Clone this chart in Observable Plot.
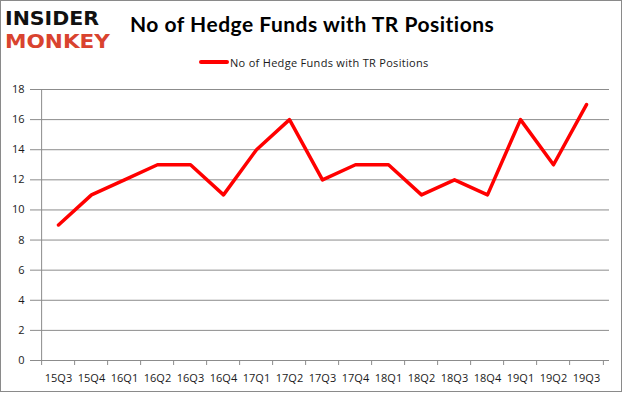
<!DOCTYPE html>
<html>
<head>
<meta charset="utf-8">
<script src="https://cdn.jsdelivr.net/npm/d3@7"></script>
<script src="https://cdn.jsdelivr.net/npm/@observablehq/plot@0.6"></script>
<style>
  html, body { margin: 0; padding: 0; background: #fff; }
  #wrap { position: relative; width: 625px; height: 394px; overflow: hidden; background: #fff; }
  #border { position: absolute; left: 0; top: 0; width: 620px; height: 390px; border: 1.5px solid #8a8a8a; pointer-events: none; }
  #title { position: absolute; left: 130px; top: 11px; font-family: Lato, sans-serif; font-weight: bold; font-size: 21px;
           letter-spacing: 0.5px; color: #000; white-space: nowrap; }
  #legend { position: absolute; left: 199px; top: 54px; height: 16px; display: flex; align-items: center;
            font-family: "Open Sans", sans-serif; font-size: 11px; letter-spacing: 0.3px; color: #1a1a1a; white-space: nowrap; }
  #legend i { display: inline-block; width: 30px; height: 4px; background: #ff0000; border-radius: 2px; margin-right: 1px; }
  #logo { position: absolute; left: 0; top: 0; }
  #chart { position: absolute; left: 0; top: 0; }
</style>
</head>
<body>
<div id="wrap">
  <div id="chart"></div>
  <svg id="logo" width="120" height="56">
    <text x="5" y="25" textLength="94" lengthAdjust="spacingAndGlyphs" font-family="DejaVu Sans" font-weight="bold" font-size="19" fill="#111">INSIDER</text>
    <text x="5" y="48" textLength="105" lengthAdjust="spacingAndGlyphs" font-family="DejaVu Sans" font-weight="bold" font-size="19" fill="#d9432f">MONKEY</text>
  </svg>
  <div id="title">No of Hedge Funds with TR Positions</div>
  <div id="legend"><i></i>No of Hedge Funds with TR Positions</div>
  <div id="border"></div>
</div>
<script>
const quarters = ["15Q3","15Q4","16Q1","16Q2","16Q3","16Q4","17Q1","17Q2","17Q3","17Q4","18Q1","18Q2","18Q3","18Q4","19Q1","19Q2","19Q3"];
const funds = [9, 11, 12, 13, 13, 11, 14, 16, 12, 13, 13, 11, 12, 11, 16, 13, 17];
const yTicks = [0, 2, 4, 6, 8, 10, 12, 14, 16, 18];

const data = quarters.map((q, i) => ({quarter: q, value: funds[i]}));

const W = 625, H = 394, mL = 35, mR = 16, mT = 89, mB = 34;
const step = (W - mL - mR) / quarters.length;

const chart = Plot.plot({
  width: W,
  height: H,
  marginLeft: mL,
  marginRight: mR,
  marginTop: mT,
  marginBottom: mB,
  style: {fontFamily: "'Open Sans', sans-serif", fontSize: "11px", color: "#1a1a1a", background: "transparent"},
  x: {type: "point", domain: quarters, padding: 0.5, label: null},
  y: {domain: [0, 18], label: null},
  marks: [
    Plot.gridY(yTicks, {stroke: "#8c8c8c", strokeOpacity: 1, strokeWidth: 1}),
    Plot.ruleX([quarters[0]], {y1: 0, y2: 18, dx: -step / 2, stroke: "#8c8c8c"}),
    Plot.ruleX(quarters, {y1: 0, y2: 0, dx: -step / 2, insetBottom: -5, stroke: "#8c8c8c"}),
    Plot.ruleX([quarters[quarters.length - 1]], {y1: 0, y2: 0, dx: step / 2, insetBottom: -5, stroke: "#8c8c8c"}),
    Plot.axisY(yTicks, {tickSize: 5, tickPadding: 6, stroke: "#8c8c8c", label: null, fill: "#1a1a1a"}),
    Plot.axisX({tickSize: 0, tickPadding: 14, label: null, fill: "#1a1a1a"}),
    Plot.line(data, {x: "quarter", y: "value", stroke: "#ff0000", strokeWidth: 3.5, strokeLinejoin: "round", strokeLinecap: "round"})
  ]
});
document.getElementById("chart").appendChild(chart);
</script>
</body>
</html>
